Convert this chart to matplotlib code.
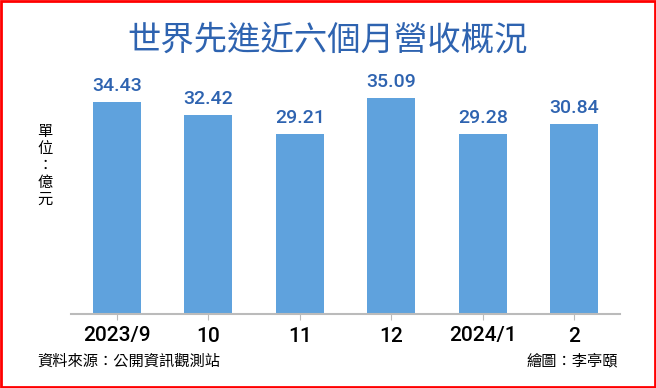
import matplotlib
matplotlib.use('Agg')
import matplotlib.pyplot as plt
from matplotlib.patches import Rectangle

months = ['2023/9', '10', '11', '12', '2024/1', '2']
revenue = [34.43, 32.42, 29.21, 35.09, 29.28, 30.84]

title = '世界先進近六個月營收概況'
unit = '單位：億元'
source = '資料來源：公開資訊觀測站'
credit = '繪圖：李亭頤'

cjk = ['Noto Sans CJK TC', 'DejaVu Sans']
num = ['Roboto', 'DejaVu Sans']
bar_color = '#5fa2dd'
blue = '#2e63b0'

fig = plt.figure(figsize=(6.56, 3.88), dpi=100)
ax = fig.add_axes([71 / 656, 74 / 388, 549 / 656, 246 / 388])

x = list(range(len(months)))
bars = ax.bar(x, revenue, width=0.53, color=bar_color, zorder=2)
for xi, v in zip(x, revenue):
    ax.annotate(f'{v:.2f}', (xi, v), xytext=(0, 5), textcoords='offset points',
                ha='center', va='bottom', fontsize=14, fontweight='medium',
                color=blue, family=num)

ax.set_xlim(-0.5, len(months) - 0.5)
ax.set_ylim(0, 40)
ax.set_xticks(x)
ax.set_xticklabels(months, fontsize=15, fontweight='medium', family=num)
ax.tick_params(axis='x', length=4, color='#bbbbbb', pad=5)
ax.set_yticks([])
for s in ['top', 'right', 'left']:
    ax.spines[s].set_visible(False)
ax.spines['bottom'].set_color('#bbbbbb')
ax.spines['bottom'].set_linewidth(1.5)

fig.text(0.5, 1 - 40 / 388, title, ha='center', va='center', fontsize=24,
         fontweight='medium', color=blue, family=cjk)
fig.text(45 / 656, 1 - 165 / 388, '\n'.join(unit), ha='center', va='center',
         fontsize=11, linespacing=1.0, family=cjk)
fig.text(37 / 656, 1 - 361 / 388, source, ha='left', va='center', fontsize=11, family=cjk)
fig.text(618 / 656, 1 - 361 / 388, credit, ha='right', va='center', fontsize=11, family=cjk)

fig.patches.append(Rectangle((0.002, 0.003), 0.996, 0.994, transform=fig.transFigure,
                             fill=False, edgecolor='red', linewidth=2))

fig.savefig('out.png', dpi=100)
